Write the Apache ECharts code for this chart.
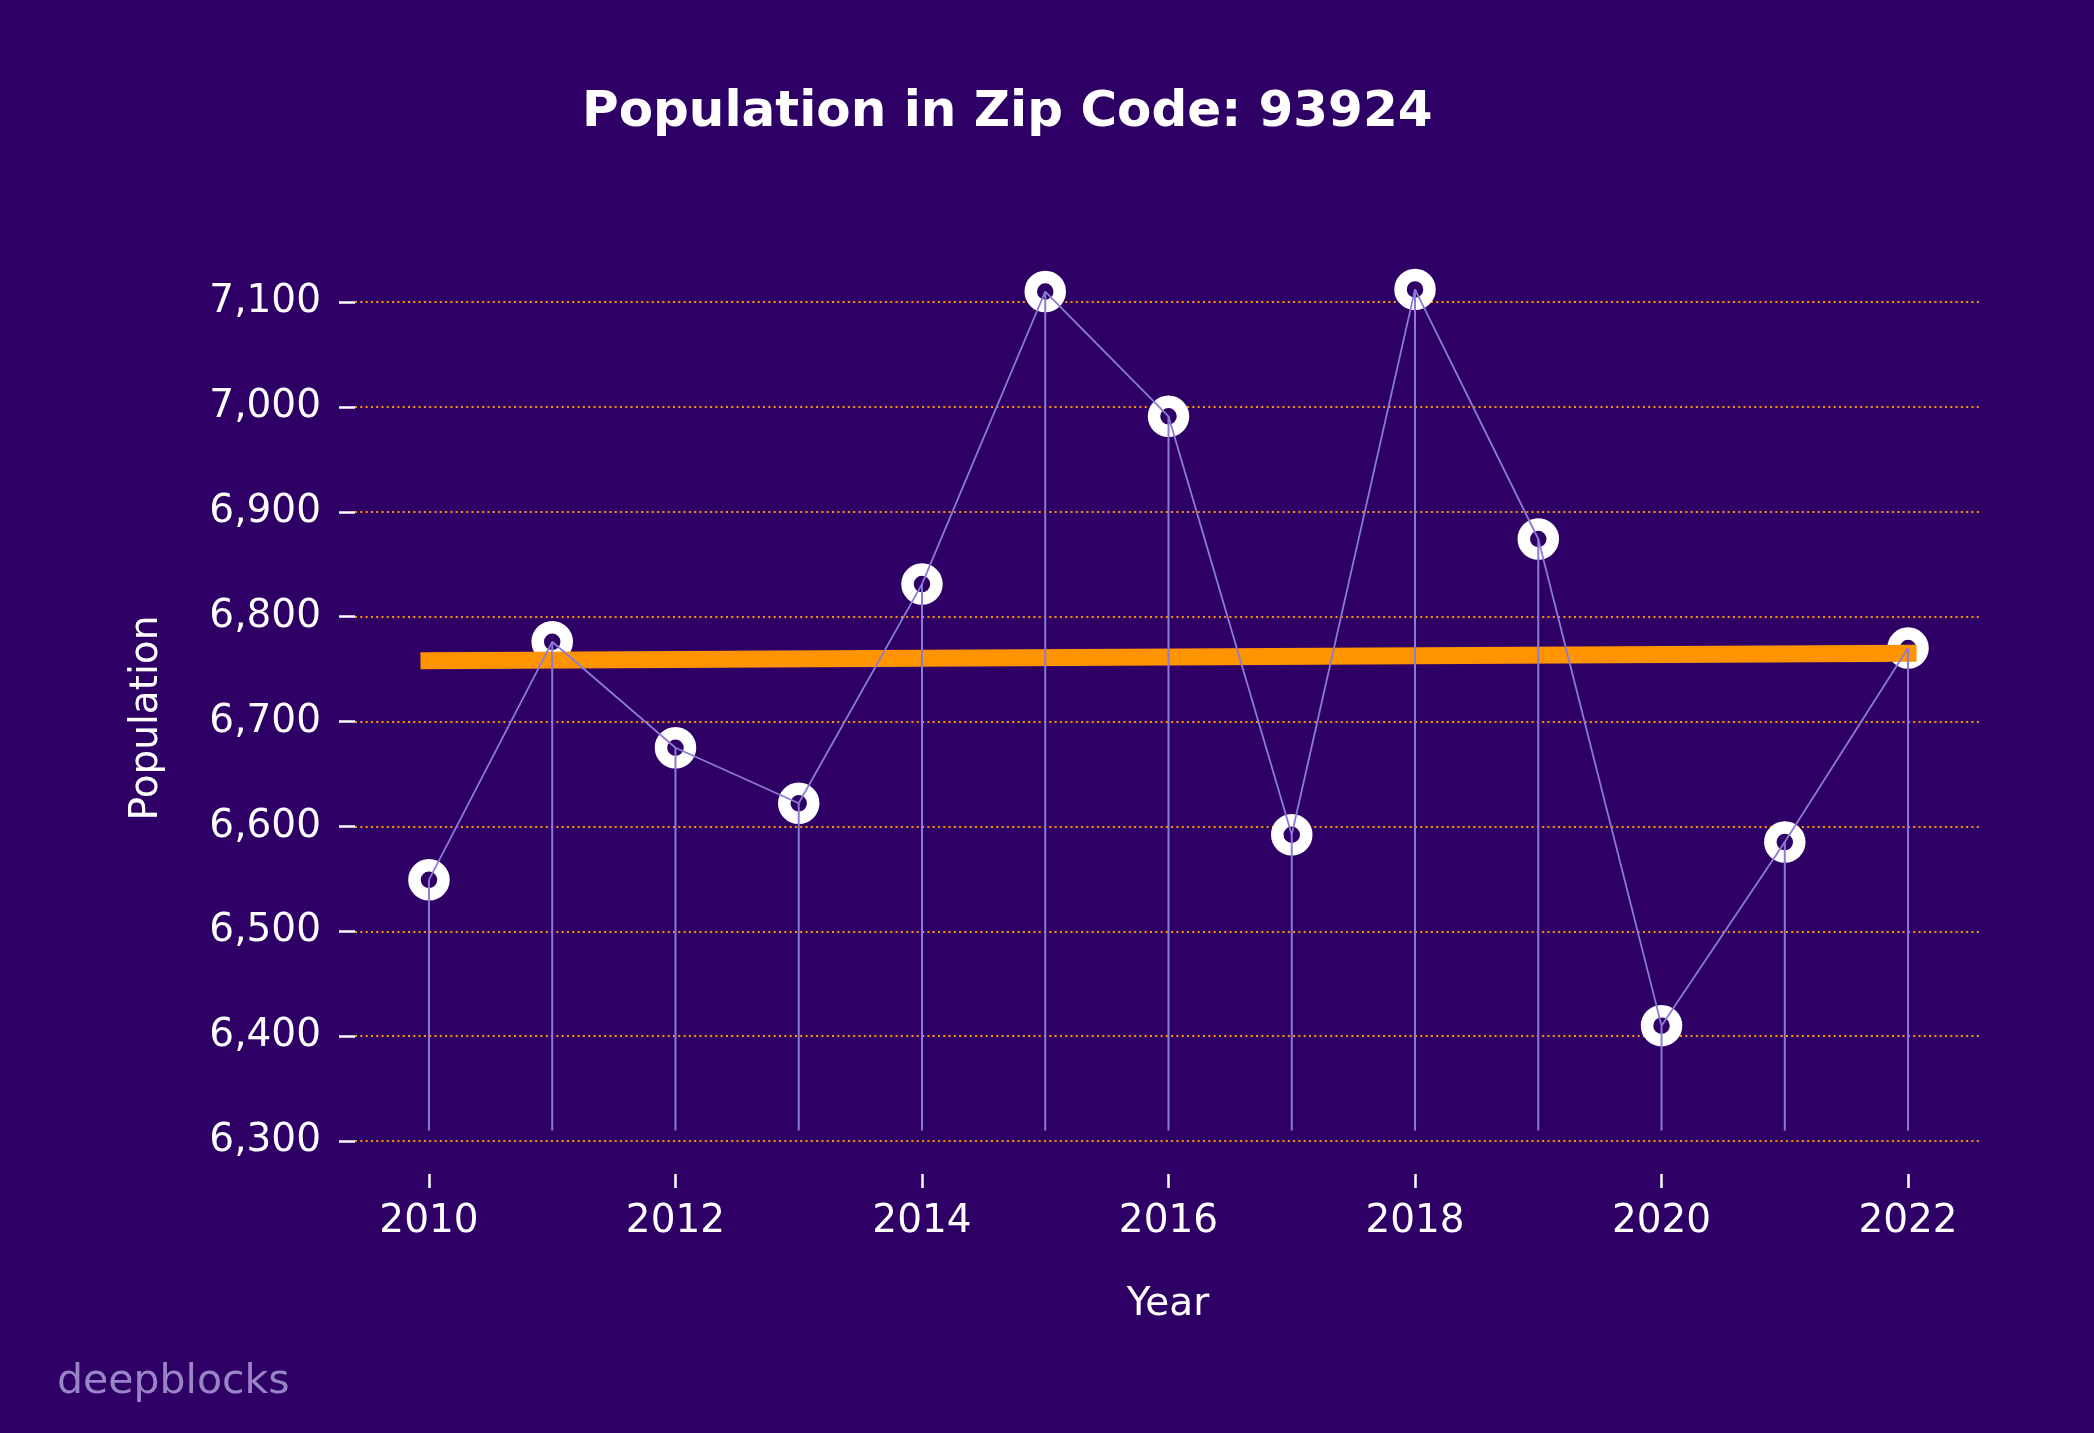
<!DOCTYPE html>
<html>
<head>
<meta charset="utf-8">
<script src="https://cdn.jsdelivr.net/npm/echarts@6/dist/echarts.min.js"></script>
<style>
  html, body { margin: 0; padding: 0; background: #2e0066; }
  #main { width: 2094px; height: 1433px; }
</style>
</head>
<body>
<div id="main"></div>
<script>
const years = [2010, 2011, 2012, 2013, 2014, 2015, 2016, 2017, 2018, 2019, 2020, 2021, 2022];
const population = [6549, 6776, 6675, 6622, 6831, 7110, 6991, 6592, 7112, 6874, 6410, 6585, 6770];
const trendYears = [2010, 2022];
const trendValues = [6758, 6765];
const stemBase = 6310;
const xTicks = [2010, 2012, 2014, 2016, 2018, 2020, 2022];

const font = "DejaVu Sans";
const bg = "#2e0066";
const lav = "#8c7ad6";

const points = years.map((y, i) => [y, population[i]]);
const trend = trendYears.map((y, i) => [y, trendValues[i]]);

const chart = echarts.init(document.getElementById("main"));
const option = {
  backgroundColor: bg,
  animation: false,
  title: {
    text: "Population in Zip Code: 93924",
    left: 577,
    top: 83,
    textStyle: { color: "#fff", fontFamily: font, fontWeight: "bold", fontSize: 50 },
  },
  grid: { left: 355, right: 112, top: 302, bottom: 292, containLabel: false },
  xAxis: {
    type: "value",
    min: 2009.4,
    max: 2022.6,
    offset: 33,
    axisLine: { show: false },
    splitLine: { show: false },
    axisTick: {
      show: true,
      customValues: xTicks,
      length: 14,
      lineStyle: { color: "#fff", width: 2.5 },
    },
    axisLabel: {
      customValues: xTicks,
      formatter: (v) => String(v),
      color: "#fff",
      fontFamily: font,
      fontSize: 39,
      margin: 28,
    },
  },
  yAxis: {
    type: "value",
    min: 6300,
    max: 7100,
    interval: 100,
    axisLine: { show: false },
    axisTick: { show: true, length: 16, lineStyle: { color: "#fff", width: 2.5 } },
    axisLabel: {
      color: "#fff",
      fontFamily: font,
      fontSize: 39,
      margin: 34,
      padding: [5, 0, 0, 0],
      formatter: (v) => v.toLocaleString("en-US"),
    },
    splitLine: {
      show: true,
      lineStyle: { color: "#ff9400", width: 2, type: [2, 3.3] },
    },
  },
  graphic: [
    {
      type: "text",
      x: 147,
      y: 718,
      rotation: Math.PI / 2,
      style: {
        text: "Population",
        fill: "#fff",
        font: "39px 'DejaVu Sans'",
        align: "center",
        verticalAlign: "middle",
      },
    },
    {
      type: "text",
      x: 1168,
      y: 1305,
      style: {
        text: "Year",
        fill: "#fff",
        font: "39px 'DejaVu Sans'",
        align: "center",
        verticalAlign: "middle",
      },
    },
    {
      type: "text",
      x: 57,
      y: 1382,
      style: {
        text: "deepblocks",
        fill: "#9a84c8",
        font: "41px 'DejaVu Sans'",
        align: "left",
        verticalAlign: "middle",
      },
    },
  ],
  series: [
    {
      type: "scatter",
      data: points,
      clip: false,
      z: 2,
      symbol: "circle",
      symbolSize: 29,
      itemStyle: { color: bg, borderColor: "#fff", borderWidth: 12.5, opacity: 1 },
    },
    {
      type: "line",
      data: trend,
      clip: false,
      z: 3,
      showSymbol: false,
      lineStyle: { color: "#ff9400", width: 17, cap: "square" },
    },
    {
      type: "line",
      data: points,
      clip: false,
      z: 4,
      showSymbol: false,
      lineStyle: { color: lav, width: 1.8 },
    },
    {
      type: "custom",
      data: points,
      clip: false,
      z: 4,
      renderItem: (params, api) => {
        const top = api.coord([api.value(0), api.value(1)]);
        const bot = api.coord([api.value(0), stemBase]);
        return {
          type: "line",
          shape: { x1: top[0], y1: top[1], x2: bot[0], y2: bot[1] },
          style: { stroke: lav, lineWidth: 2 },
        };
      },
    },
  ],
};
chart.setOption(option);
</script>
</body>
</html>
